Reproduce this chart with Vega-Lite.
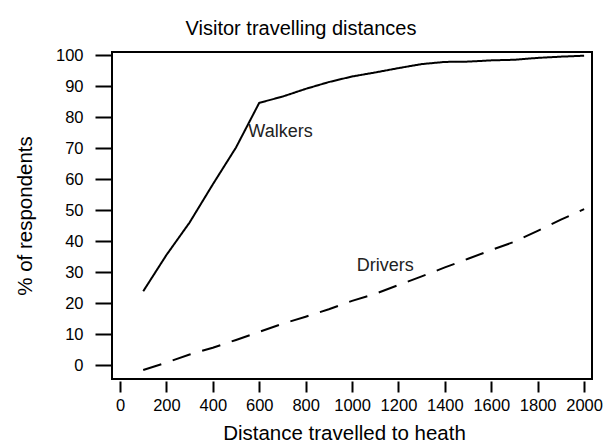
{
  "$schema": "https://vega.github.io/schema/vega-lite/v6.json",
  "width": 480,
  "height": 327,
  "autosize": {"type": "none"},
  "padding": {"left": 112, "top": 52, "right": 11, "bottom": 65},
  "background": "white",
  "config": {
    "font": "Liberation Sans",
    "view": {"stroke": "black", "strokeWidth": 2},
    "axis": {"grid": false, "domain": false, "tickColor": "black", "tickWidth": 2, "labelColor": "black", "titleColor": "black", "labelFont": "Liberation Sans", "titleFont": "Liberation Sans", "titleFontWeight": "normal", "labelOverlap": false}
  },
  "title": {"text": "Visitor travelling distances", "font": "Liberation Sans", "fontSize": 20, "fontWeight": "normal", "color": "black", "anchor": "middle", "dx": -51, "offset": 8},
  "datasets": {
    "lines": [
      {"distance": 100, "pct": 23.8, "group": "Walkers"},
      {"distance": 200, "pct": 35.5, "group": "Walkers"},
      {"distance": 300, "pct": 46, "group": "Walkers"},
      {"distance": 400, "pct": 58.3, "group": "Walkers"},
      {"distance": 500, "pct": 70.2, "group": "Walkers"},
      {"distance": 600, "pct": 84.6, "group": "Walkers"},
      {"distance": 700, "pct": 86.6, "group": "Walkers"},
      {"distance": 800, "pct": 89.1, "group": "Walkers"},
      {"distance": 900, "pct": 91.3, "group": "Walkers"},
      {"distance": 1000, "pct": 93.1, "group": "Walkers"},
      {"distance": 1100, "pct": 94.4, "group": "Walkers"},
      {"distance": 1200, "pct": 95.8, "group": "Walkers"},
      {"distance": 1300, "pct": 97.1, "group": "Walkers"},
      {"distance": 1400, "pct": 97.8, "group": "Walkers"},
      {"distance": 1500, "pct": 97.9, "group": "Walkers"},
      {"distance": 1600, "pct": 98.3, "group": "Walkers"},
      {"distance": 1700, "pct": 98.5, "group": "Walkers"},
      {"distance": 1800, "pct": 99.1, "group": "Walkers"},
      {"distance": 1900, "pct": 99.5, "group": "Walkers"},
      {"distance": 2000, "pct": 99.8, "group": "Walkers"},
      {"distance": 100, "pct": -1.6, "group": "Drivers"},
      {"distance": 200, "pct": 0.8, "group": "Drivers"},
      {"distance": 300, "pct": 3.4, "group": "Drivers"},
      {"distance": 400, "pct": 5.6, "group": "Drivers"},
      {"distance": 500, "pct": 8.1, "group": "Drivers"},
      {"distance": 600, "pct": 10.7, "group": "Drivers"},
      {"distance": 700, "pct": 13.3, "group": "Drivers"},
      {"distance": 800, "pct": 15.6, "group": "Drivers"},
      {"distance": 900, "pct": 18, "group": "Drivers"},
      {"distance": 1000, "pct": 20.7, "group": "Drivers"},
      {"distance": 1100, "pct": 23, "group": "Drivers"},
      {"distance": 1200, "pct": 25.8, "group": "Drivers"},
      {"distance": 1300, "pct": 28.6, "group": "Drivers"},
      {"distance": 1400, "pct": 31.5, "group": "Drivers"},
      {"distance": 1500, "pct": 34.3, "group": "Drivers"},
      {"distance": 1600, "pct": 37.1, "group": "Drivers"},
      {"distance": 1700, "pct": 39.8, "group": "Drivers"},
      {"distance": 1800, "pct": 43.3, "group": "Drivers"},
      {"distance": 1900, "pct": 46.9, "group": "Drivers"},
      {"distance": 2000, "pct": 50.3, "group": "Drivers"}
    ],
    "labels": [
      {"distance": 553, "pct": 75.3, "label": "Walkers"},
      {"distance": 1020, "pct": 31.9, "label": "Drivers"}
    ]
  },
  "encoding": {
    "x": {"field": "distance", "type": "quantitative",
      "scale": {"domain": [-34.5, 2034], "nice": false, "zero": false},
      "axis": {"values": [0, 200, 400, 600, 800, 1000, 1200, 1400, 1600, 1800, 2000], "format": "d", "labelOverlap": false, "title": "Distance travelled to heath", "titleX": 232, "offset": 2, "tickSize": 11, "labelPadding": 5, "labelFontSize": 16.5, "titleFontSize": 20.5, "titlePadding": 10}},
    "y": {"field": "pct", "type": "quantitative",
      "scale": {"domain": [-4.5, 101], "nice": false, "zero": false},
      "axis": {"values": [0, 10, 20, 30, 40, 50, 60, 70, 80, 90, 100], "format": "d", "labelOverlap": false, "title": "% of respondents", "tickSize": 17, "labelPadding": 12, "labelFontSize": 16.5, "titleFontSize": 20.5, "titlePadding": 20}}
  },
  "layer": [
    {
      "data": {"name": "lines"},
      "mark": {"type": "line", "color": "black", "strokeWidth": 2},
      "encoding": {
        "strokeDash": {"field": "group", "type": "nominal",
          "scale": {"domain": ["Walkers", "Drivers"], "range": [[1, 0], [19, 12]]},
          "legend": null}
      }
    },
    {
      "data": {"name": "labels"},
      "mark": {"type": "text", "align": "left", "baseline": "middle", "fontSize": 18, "color": "#222222", "font": "Liberation Sans"},
      "encoding": {
        "text": {"field": "label"}
      }
    }
  ]
}
